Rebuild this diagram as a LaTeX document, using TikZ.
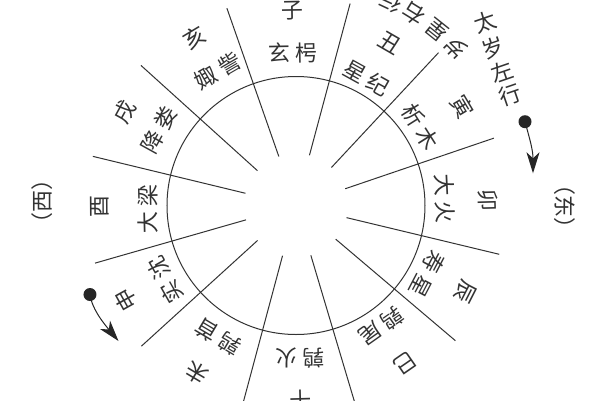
\documentclass[tikz,border=0pt]{standalone}
\usepackage{fontspec}
\setmainfont{Noto Sans CJK SC}
\usetikzlibrary{arrows.meta}
\newcommand\chgap{\hspace{5pt}}
\begin{document}
\begin{tikzpicture}[x=1pt,y=1pt,
  lbl/.style={font=\fontsize{22}{22}\selectfont, inner sep=0pt, text=black!80},
  ray/.style={line width=1pt, draw=black!80},
  dotn/.style={circle, fill=black!85, minimum size=13pt, inner sep=0pt},
  arr/.style={line width=1pt, draw=black!85, -{Stealth[length=21pt,width=13pt,inset=6pt]}}]
\clip (-296,-194.5) rectangle (304,205.5);
\fill[white] (-296,-194.5) rectangle (304,205.5);
% circle and rays
\draw[ray] (0,0) circle (129);
\foreach \a in {109.3,75,47,18.8,-13.5,-40.3,-73.4,-105,-137.7,-164,166.4,137.9}
  \draw[ray] (\a:52) -- (\a:209);
% station names
\foreach \a/\r/\t [count=\i, evaluate=\a as \rot using \a-90] in
  {91/152.5/玄\chgap 枵, 61/146/星\chgap 纪, 32.3/147/析\chgap 木, 2.7/149/大\chgap 火,
   -27.6/148/寿\chgap 星, -54.8/147.5/鹑\chgap 尾, -88.5/152.5/鹑\chgap 火,
   -120.7/153/鹑\chgap 首, -150.4/150.7/实\chgap 沈, 181.4/148/大\chgap 梁,
   151.1/156/降\chgap 娄, 120.1/155.5/娵\chgap 訾}
  \node[lbl, rotate=\rot] (st\i) at (\a:\r) {\t};
% branches
\foreach \a/\r/\t [count=\i, evaluate=\a as \rot using \a-90] in
  {91/195/子, 60/188/丑, 30.7/193/寅, 1.6/192/卯, -27.1/190/辰, -55.3/191.5/巳,
   -88.5/195/午, -120.6/194.5/未, -151/195/申, 180.4/196/酉, 151.3/195/戌, 121.1/195.6/亥}
  \node[lbl, rotate=\rot] (br\i) at (\a:\r) {\t};
% rim text
\foreach \a/\t [count=\i, evaluate=\a as \rot using \a+90] in
  {65/行, 58.3/右, 51.4/星, 44.7/岁}
  \node[lbl, rotate=\rot] (rim\i) at (\a:225) {\t};
% taisui text
\node[lbl, rotate=19] (ts1) at (189,183.5) {太};
\node[lbl, rotate=19] (ts2) at (197,157.5) {岁};
\node[lbl, rotate=19] (ts3) at (206,133.5) {左};
\node[lbl, rotate=19] (ts4) at (214,110.5) {行};
% east / west
\node[lbl, rotate=-90] (east) at (269,-0.5) {（东）};
\node[lbl, rotate=90] (west) at (-254,4.5) {（西）};
% dots and arrows
\node[dotn] (dotA) at (229,83.8) {};
\coordinate (tipA) at (237,32.2);
\draw[arr] (dotA.center) .. controls (234,65.5) and (237,55.5) .. (tipA);
\node[dotn] (dotB) at (-206,-89) {};
\coordinate (tipB) at (-177.5,-135.5);
\draw[arr] (dotB.center) .. controls (-204,-104.5) and (-190,-120.5) .. (tipB);
\end{tikzpicture}
\end{document}
